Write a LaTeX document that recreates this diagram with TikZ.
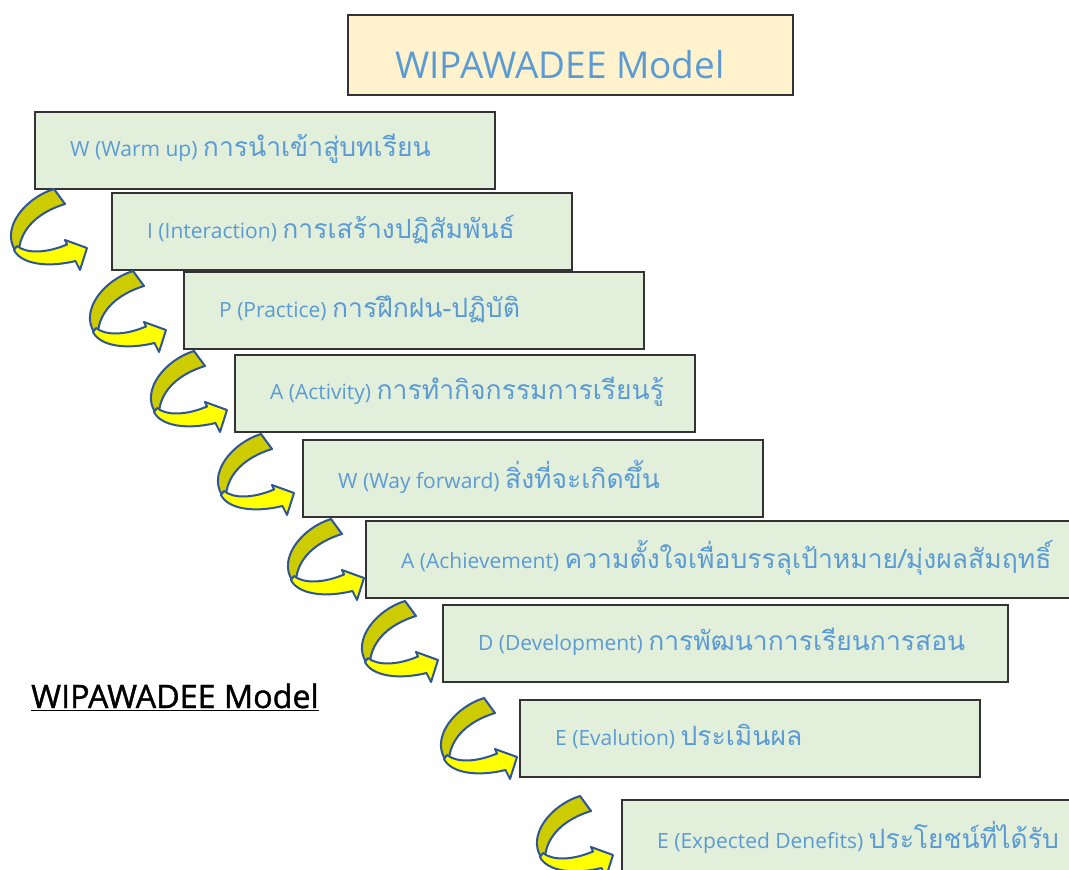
\documentclass[tikz,border=0pt]{standalone}
\usepackage{fontspec}
\setmainfont{Open Sans}
\newfontfamily\thai[Script=Thai]{Loma}
\newfontfamily\lblfont[FakeBold=1.2]{Open Sans}
\usetikzlibrary{calc}
\definecolor{boxgreen}{RGB}{226,239,218}
\definecolor{titlefill}{RGB}{255,242,204}
\definecolor{txtblue}{RGB}{91,155,213}
\definecolor{olivey}{RGB}{204,204,0}
\definecolor{brighty}{RGB}{255,255,0}
\definecolor{arrblue}{RGB}{47,85,151}
\tikzset{
  stepbox/.style={draw=black!80, line width=1.5pt, fill=boxgreen, anchor=north west, minimum width=460pt, minimum height=77pt, inner sep=0pt},
  steptext/.style={anchor=west, text=txtblue, inner sep=0pt, font=\fontsize{21}{24}\selectfont},
  uturn/.pic={
    \filldraw[fill=olivey, draw=arrblue, line width=2pt, line join=round]
      (-33,-59) .. controls (-62,-50) and (-86,-20) .. (-72,2) -- (-68,2)
      .. controls (-66,-20) and (-48,-36) .. (-22,-44) -- cycle;
    \filldraw[fill=brighty, draw=arrblue, line width=2pt, line join=round]
      (-73,2) .. controls (-66,16) and (-40,20) .. (-11.5,13) -- (-7,22) -- (0,0)
      -- (-22,-8) -- (-20,-3.5) .. controls (-40,5) and (-60,6) .. (-70,-2) -- cycle;
  }
}
\newcommand{\thtxt}[1]{{\thai\fontsize{26.5}{30}\selectfont #1}}
\begin{document}
\begin{tikzpicture}[x=1pt,y=-1pt]
\useasboundingbox (0,0) rectangle (1069,870);
\clip (0,0) rectangle (1069,870);
\fill[white] (0,0) rectangle (1069,870);

\node[draw=black!80, line width=1.5pt, fill=titlefill, anchor=north west, minimum width=445pt, minimum height=80pt] (title) at (347,14) {};
\node[text=txtblue, font=\fontsize{37}{40}\selectfont, anchor=base] (titletext) at (560,78) {WIPAWADEE Model};

\node[stepbox] (b1) at (34,111) {};
\node[stepbox] (b2) at (111,192) {};
\node[stepbox] (b3) at (183,271) {};
\node[stepbox] (b4) at (234,354) {};
\node[stepbox] (b5) at (302,439) {};
\node[stepbox, minimum width=710pt] (b6) at (365,520) {};
\node[stepbox, minimum width=565pt] (b7) at (442,604) {};
\node[stepbox] (b8) at (519,699) {};
\node[stepbox, minimum width=460pt, minimum height=90pt] (b9) at (621,799) {};

\node[steptext] (t1) at ($(b1.north west)+(36,38)$) {W (Warm up) \thtxt{การนำเข้าสู่บทเรียน}};
\node[steptext] (t2) at ($(b2.north west)+(36,38)$) {I (Interaction) \thtxt{การเสร้างปฏิสัมพันธ์}};
\node[steptext] (t3) at ($(b3.north west)+(36,38)$) {P (Practice) \thtxt{การฝึกฝน-ปฏิบัติ}};
\node[steptext] (t4) at ($(b4.north west)+(36,38)$) {A (Activity) \thtxt{การทำกิจกรรมการเรียนรู้}};
\node[steptext] (t5) at ($(b5.north west)+(36,38)$) {W (Way forward) \thtxt{สิ่งที่จะเกิดขึ้น}};
\node[steptext] (t6) at ($(b6.north west)+(36,38)$) {A (Achievement) \thtxt{ความตั้งใจเพื่อบรรลุเป้าหมาย/มุ่งผลสัมฤทธิ์}};
\node[steptext] (t7) at ($(b7.north west)+(36,38)$) {D (Development) \thtxt{การพัฒนาการเรียนการสอน}};
\node[steptext] (t8) at ($(b8.north west)+(36,38)$) {E (Evalution) \thtxt{ประเมินผล}};
\node[steptext] (t9) at ($(b9.north west)+(36,38)$) {E (Expected Denefits) \thtxt{ประโยชน์ที่ได้รับ}};

\node[anchor=base west, inner sep=0pt, font=\lblfont\fontsize{32.3}{35}\selectfont] (lbl) at (31,708) {\underline{WIPAWADEE Model}};

\coordinate (a1) at ($(b2.north west)+(-24,56)$);
\coordinate (a2) at ($(b3.north west)+(-17,59)$);
\coordinate (a3) at ($(b4.north west)+(-7,56)$);
\coordinate (a4) at ($(b5.north west)+(-8,54)$);
\coordinate (a5) at ($(b6.north west)+(-1,58)$);
\coordinate (a6) at ($(b7.north west)+(-4,56)$);
\coordinate (a7) at ($(b8.north west)+(-2,58)$);
\coordinate (a8) at ($(b9.north west)+(-8,56)$);
\foreach \c in {a1,a2,a3,a4,a5,a6,a7,a8} { \pic at (\c) {uturn}; }
\end{tikzpicture}
\end{document}
